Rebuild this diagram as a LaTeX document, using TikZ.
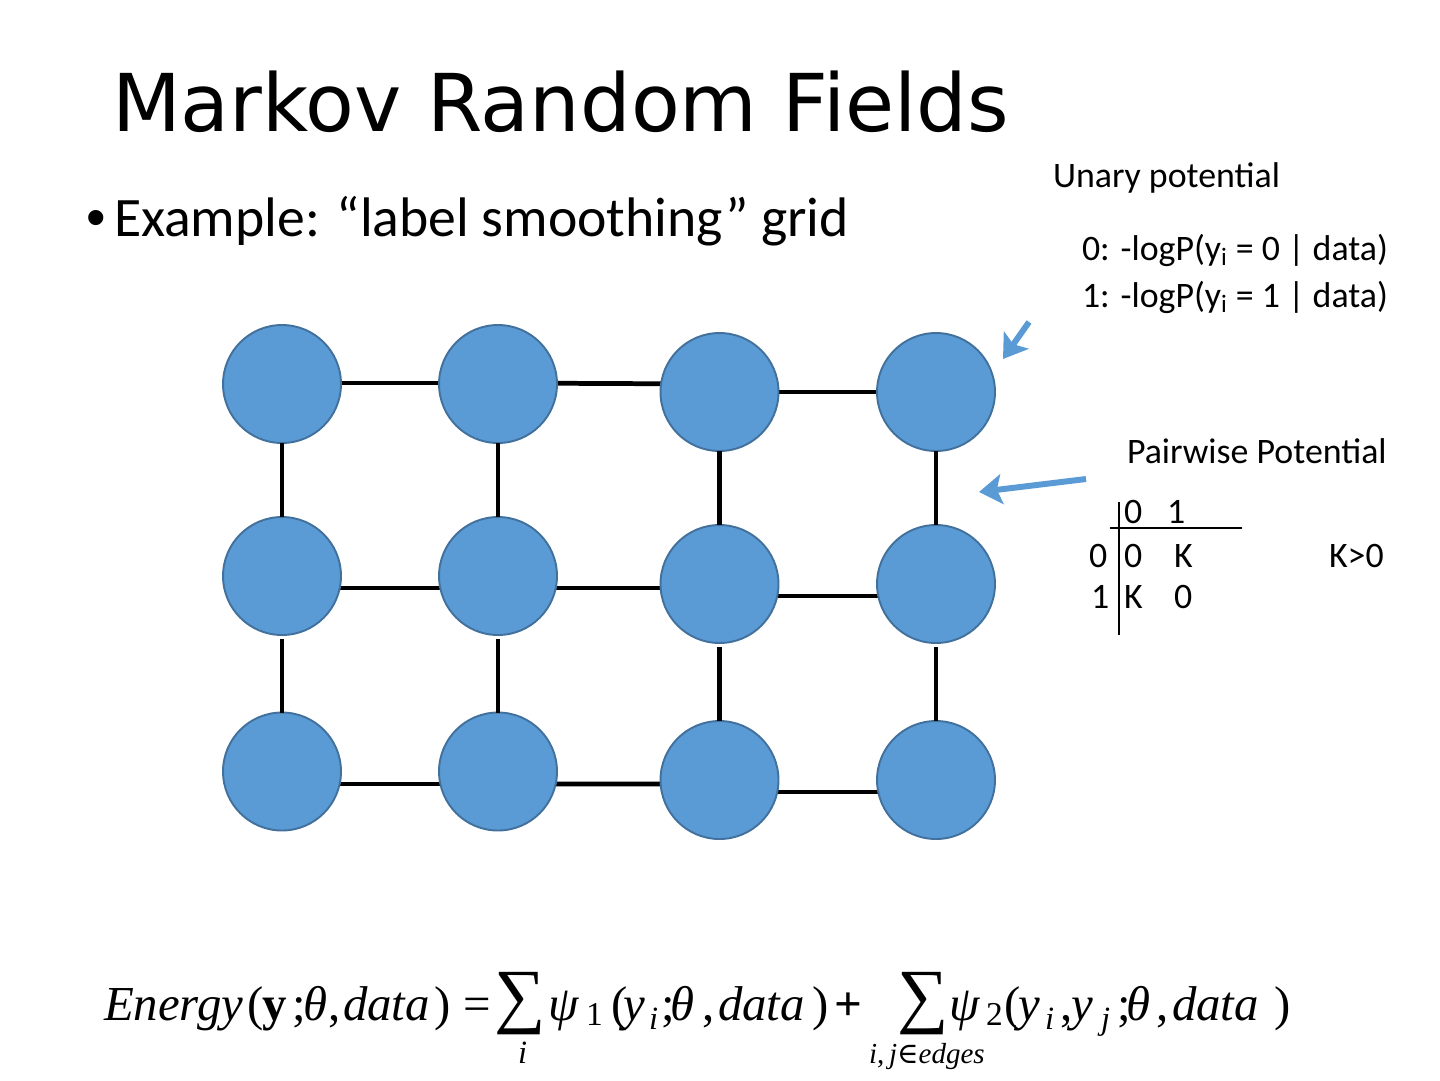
\documentclass[tikz,border=0pt]{standalone}
\usepackage{fontspec}
\usetikzlibrary{arrows.meta,calc,backgrounds}
\setmainfont{Liberation Serif}
\newfontfamily\titlefont{DejaVu Sans}
\newfontfamily\bodyfont{Carlito}
\newfontfamily\bulletfont{Liberation Sans}
\newfontfamily\serffont{Liberation Serif}
\newfontfamily\symfont{DejaVu Serif}
\definecolor{nodeblue}{HTML}{5B9BD5}
\definecolor{nodeedge}{HTML}{41719C}
\begin{document}
\begin{tikzpicture}[x=0.02cm,y=-0.02cm,
  mrf/.style={circle,fill=nodeblue,draw=nodeedge,line width=1.1pt,minimum size=2.36cm,inner sep=0pt,outer sep=0pt},
  link/.style={line width=2.7pt,black},
  pointer/.style={nodeblue,line width=3.4pt,-{Stealth[length=0.46cm,width=0.6cm,inset=0.1cm]}},
  txt/.style={inner sep=0pt,outer sep=0pt,anchor=base west},
  bodytxt/.style={txt,font=\bodyfont\fontsize{20.4pt}{24pt}\selectfont},
  fml/.style={txt,font=\serffont\fontsize{27.8pt}{32pt}\selectfont\itshape},
  fup/.style={txt,font=\serffont\fontsize{27.8pt}{32pt}\selectfont},
  fsub/.style={txt,font=\serffont\fontsize{18.5pt}{20pt}\selectfont\itshape},
  fsubup/.style={txt,font=\serffont\fontsize{19pt}{21pt}\selectfont},
  fsum/.style={inner sep=0pt,outer sep=0pt,anchor=center,font=\serffont\fontsize{41pt}{44pt}\selectfont},
  tabrule/.style={line width=0.85pt,black}
]
\useasboundingbox (0,0) rectangle (1440,1080);
\begin{scope}[on background layer]
  \fill[white] (0,0) rectangle (1440,1080);
\end{scope}

% title and bullet
\node[txt,font=\titlefont\fontsize{45.4pt}{50pt}\selectfont] (title) at (112,131) {Markov Random Fields};
\node[txt,font=\bulletfont\fontsize{31.7pt}{36pt}\selectfont] (bullet) at (86,236) {•};
\node[txt,font=\bodyfont\fontsize{31.7pt}{36pt}\selectfont] (example) at (114,236) {Example: “label smoothing” grid};

% grid nodes
\node[mrf] (c11) at (282,384) {};
\node[mrf] (c12) at (498,384) {};
\node[mrf] (c13) at (719.5,392) {};
\node[mrf] (c14) at (936,392) {};
\node[mrf] (c21) at (282,576) {};
\node[mrf] (c22) at (498,576) {};
\node[mrf] (c23) at (719.5,584) {};
\node[mrf] (c24) at (936,584) {};
\node[mrf] (c31) at (282,771.5) {};
\node[mrf] (c32) at (498,771.5) {};
\node[mrf] (c33) at (719.5,780) {};
\node[mrf] (c34) at (936,780) {};

\begin{scope}[on background layer]
  % horizontal edges
  \draw[link] ($(c11.center)+(0,-1)$) -- ($(c12.center)+(0,-1)$);
  \draw[link] ($(c12.center)+(0,-1)$) -- ($(c13.center)+(0,-8)$);
  \draw[link] (c13.center) -- (c14.center);
  \draw[link] ($(c21.center)+(0,12)$) -- ($(c22.center)+(0,12)$);
  \draw[link] ($(c22.center)+(0,12)$) -- ($(c23.center)+(0,4)$);
  \draw[link] ($(c23.center)+(0,12)$) -- ($(c24.center)+(0,12)$);
  \draw[link] ($(c31.center)+(0,12.5)$) -- ($(c32.center)+(0,12.5)$);
  \draw[link] ($(c32.center)+(0,12.5)$) -- ($(c33.center)+(0,4)$);
  \draw[link] ($(c33.center)+(0,12)$) -- ($(c34.center)+(0,12)$);
\end{scope}
% vertical edges
\draw[link] (c11.south) -- (c21.north);
\draw[link] (c12.south) -- (c22.north);
\draw[link] (c13.south) -- (c23.north);
\draw[link] (c14.south) -- (c24.north);
\draw[link,shorten <=0.08cm] (c21.south) -- (c31.north);
\draw[link,shorten <=0.08cm] (c22.south) -- (c32.north);
\draw[link,shorten <=0.08cm] (c23.south) -- (c33.north);
\draw[link,shorten <=0.08cm] (c24.south) -- (c34.north);

% unary potential
\node[bodytxt] (unary) at (1053,187) {Unary potential};
\node[bodytxt] (u0) at (1082,260) {0: -logP(y\textsubscript{i} = 0 | data)};
\node[bodytxt] (u1) at (1082,307) {1: -logP(y\textsubscript{i} = 1 | data)};
\coordinate (a1tail) at (1029,322);
\coordinate (a1tip) at (1003,359);
\draw[pointer] (a1tail) -- (a1tip);

% pairwise potential
\node[bodytxt] (pair) at (1127,463) {Pairwise Potential};
\coordinate (a2tail) at (1086,479);
\coordinate (a2tip) at (979,492);
\draw[pointer] (a2tail) -- (a2tip);

\node[bodytxt] (h0) at (1124,523) {0};
\node[bodytxt] (h1) at (1167,523) {1};
\node[bodytxt] (r0) at (1089,567) {0};
\node[bodytxt] (r00) at (1124,567) {0};
\node[bodytxt] (r01) at (1174,567) {K};
\node[bodytxt] (r1) at (1091,608) {1};
\node[bodytxt] (r10) at (1124,608) {K};
\node[bodytxt] (r11) at (1174,608) {0};
\node[bodytxt] (kpos) at (1329,567) {K>0};
\coordinate (hl1) at (1110,528);
\coordinate (hl2) at (1242,528);
\coordinate (vl1) at (1119,502);
\coordinate (vl2) at (1119,635);
\draw[tabrule] (hl1) -- (hl2);
\draw[tabrule] (vl1) -- (vl2);

% energy formula
\node[fml] (e1) at (104,1020) {Energy};
\node[fup] (e2) at (247,1020) {(};
\node[fup] (e3) at (262,1020) {\textbf{y}};
\node[fup] (e4) at (292,1020) {;};
\node[fml] (e5) at (303,1020) {θ};
\node[fup] (e6) at (328,1020) {,};
\node[fml] (e7) at (343,1020) {data};
\node[fup] (e8) at (434,1020) {)};
\node[fup] (e9) at (463,1020) {=};
\node[fsum] (s1) at (520,1004) {∑};
\node[fsub] (s1i) at (518,1063) {i};
\node[fml] (p1) at (548,1020) {ψ};
\node[fsubup] (p1n) at (586,1025) {1};
\node[fup] (p2) at (611,1020) {(};
\node[fml] (p3) at (623,1020) {y};
\node[fsub] (p4) at (649,1029) {i};
\node[fup] (p5) at (661,1020) {;};
\node[fml] (p6) at (670,1020) {θ};
\node[fup] (p7) at (702,1020) {,};
\node[fml] (p8) at (718,1020) {data};
\node[fup] (p9) at (812,1020) {)};
\node[fup] (plus) at (834,1020) {\textbf{+}};
\node[fsum] (s2) at (923,1004) {∑};
\node[txt,font=\serffont\fontsize{16.5pt}{18pt}\selectfont] (s2i) at (869,1063) {\textit{i},\,\textit{j}{\symfont ∈}\textit{edges}};
\node[fml] (q1) at (949,1020) {ψ};
\node[fsubup] (q1n) at (986,1025) {2};
\node[fup] (q2) at (1004,1020) {(};
\node[fml] (q3) at (1018,1020) {y};
\node[fsub] (q4) at (1045,1029) {i};
\node[fup] (q5) at (1060,1020) {,};
\node[fml] (q6) at (1071,1020) {y};
\node[fsub] (q7) at (1101,1029) {j};
\node[fup] (q8) at (1117,1020) {;};
\node[fml] (q9) at (1126,1020) {θ};
\node[fup] (q10) at (1156,1020) {,};
\node[fml] (q11) at (1172,1020) {data};
\node[fup] (q12) at (1274,1020) {)};
\end{tikzpicture}
\end{document}
